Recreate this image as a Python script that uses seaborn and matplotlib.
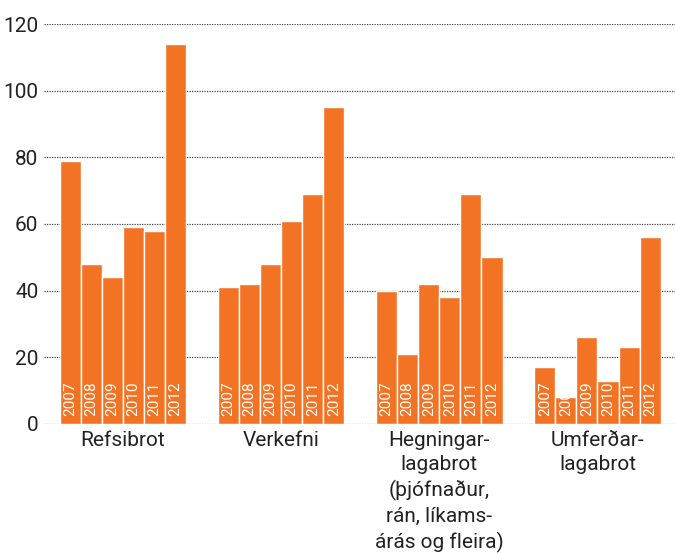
import matplotlib
matplotlib.use("Agg")
import matplotlib.pyplot as plt
import seaborn as sns
import pandas as pd

categories = ["Refsibrot", "Verkefni",
              "Hegningar-\nlagabrot\n(þjófnaður,\nrán, líkams-\nárás og fleira)",
              "Umferðar-\nlagabrot"]
years = ["2007", "2008", "2009", "2010", "2011", "2012"]
refsibrot = [79, 48, 44, 59, 58, 114]
verkefni = [41, 42, 48, 61, 69, 95]
hegningarlagabrot = [40, 21, 42, 38, 69, 50]
umferdarlagabrot = [17, 8, 26, 13, 23, 56]
y_ticks = [0, 20, 40, 60, 80, 100, 120]

series = [refsibrot, verkefni, hegningarlagabrot, umferdarlagabrot]
rows = []
for cat, vals in zip(categories, series):
    for yr, v in zip(years, vals):
        rows.append({"cat": cat, "year": yr, "val": v})
df = pd.DataFrame(rows)

sns.set_theme(style="white")
plt.rcParams["font.family"] = ["Roboto", "DejaVu Sans"]

ORANGE = "#F37324"
fig = plt.figure(figsize=(6.75, 5.53), dpi=100)
ax = fig.add_axes([0.065, 0.2333, 0.935, 0.7233])

sns.barplot(data=df, x="cat", y="val", hue="year", hue_order=years,
            order=categories, palette=[ORANGE] * len(years), saturation=1,
            width=0.8, edgecolor="white", linewidth=1.0, legend=False, ax=ax)

# year labels inside bars (patches are ordered by hue level, then category)
idx = 0
for yr in years:
    for cat in categories:
        p = ax.patches[idx]
        idx += 1
        cx = p.get_x() + p.get_width() / 2
        t = ax.text(cx, 2.4, yr, rotation=90, ha="center", va="bottom",
                    color="white", fontsize=11)
        t.set_clip_path(p)

ax.set_ylim(0, 120)
ax.set_xlim(-0.5, 3.49)
ax.set_yticks(y_ticks)
ax.set_yticklabels([str(v) for v in y_ticks])
ax.yaxis.grid(True, linestyle=(0, (1, 1)), color="#444444", linewidth=0.9)
ax.xaxis.grid(False)
ax.set_axisbelow(True)
for s in ax.spines.values():
    s.set_visible(False)
ax.tick_params(axis="y", length=0, pad=4, labelsize=15, labelcolor="#222222")
ax.tick_params(axis="x", length=0, pad=5, labelsize=15, labelcolor="#222222")
for lbl in ax.get_xticklabels():
    lbl.set_linespacing(1.36)
ax.set_xlabel("")
ax.set_ylabel("")

fig.savefig("out.png", dpi=100)
